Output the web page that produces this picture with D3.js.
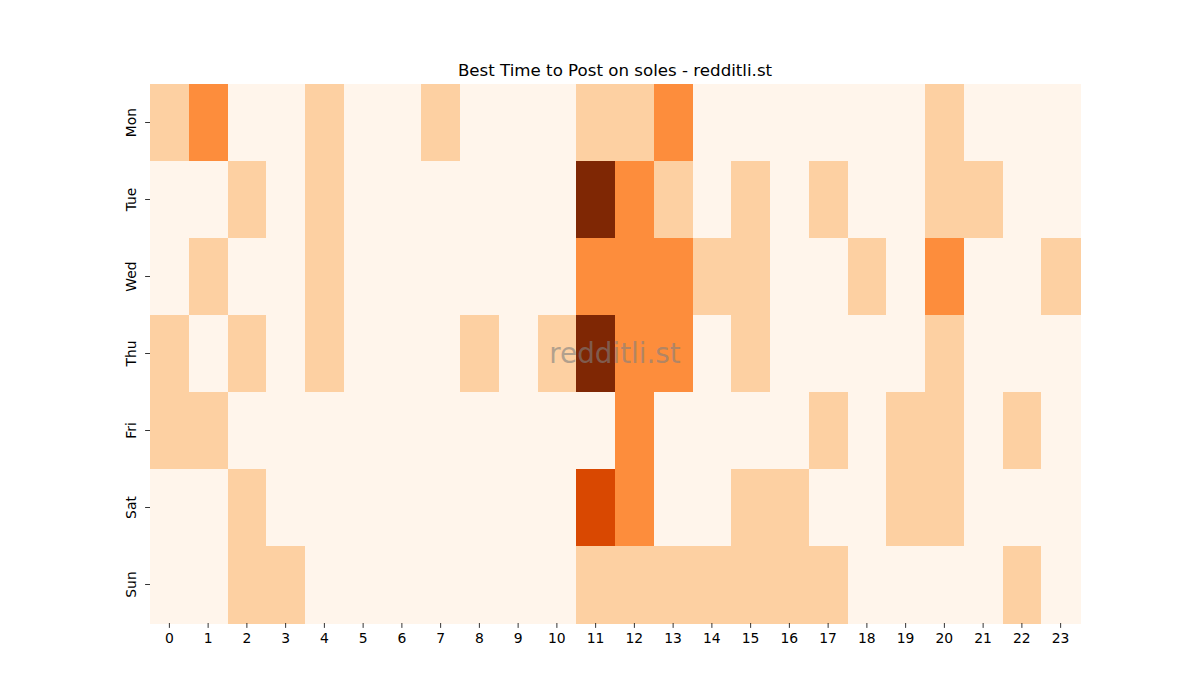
<!DOCTYPE html>
<html>
<head>
<meta charset="utf-8">
<script src="https://cdn.jsdelivr.net/npm/d3@7"></script>
<style>
  body { margin: 0; background: #fff; }
  svg { font-family: "DejaVu Sans", sans-serif; }
</style>
</head>
<body>
<svg id="chart" width="1200" height="700"></svg>
<script>
// Days (rows) and hours (columns)
const days = ["Mon", "Tue", "Wed", "Thu", "Fri", "Sat", "Sun"];
const hours = d3.range(24);

// Post counts per hour, one array per day
const mon = [1, 2, 0, 0, 1, 0, 0, 1, 0, 0, 0, 1, 1, 2, 0, 0, 0, 0, 0, 0, 1, 0, 0, 0];
const tue = [0, 0, 1, 0, 1, 0, 0, 0, 0, 0, 0, 4, 2, 1, 0, 1, 0, 1, 0, 0, 1, 1, 0, 0];
const wed = [0, 1, 0, 0, 1, 0, 0, 0, 0, 0, 0, 2, 2, 2, 1, 1, 0, 0, 1, 0, 2, 0, 0, 1];
const thu = [1, 0, 1, 0, 1, 0, 0, 0, 1, 0, 1, 4, 2, 2, 0, 1, 0, 0, 0, 0, 1, 0, 0, 0];
const fri = [1, 1, 0, 0, 0, 0, 0, 0, 0, 0, 0, 0, 2, 0, 0, 0, 0, 1, 0, 1, 1, 0, 1, 0];
const sat = [0, 0, 1, 0, 0, 0, 0, 0, 0, 0, 0, 3, 2, 0, 0, 1, 1, 0, 0, 1, 1, 0, 0, 0];
const sun = [0, 0, 1, 1, 0, 0, 0, 0, 0, 0, 0, 1, 1, 1, 1, 1, 1, 1, 0, 0, 0, 0, 1, 0];
const counts = [mon, tue, wed, thu, fri, sat, sun];

const title = "Best Time to Post on soles - redditli.st";
const watermark = "redditli.st";

const cells = [];
counts.forEach((row, i) => row.forEach((v, h) => cells.push({ day: days[i], hour: h, value: v })));

const margin = { left: 150, right: 120, top: 84, bottom: 77 };
const width = 1200, height = 700;

const svg = d3.select("#chart");

const x = d3.scaleBand()
    .domain(hours)
    .range([margin.left, width - margin.right]);

const y = d3.scaleBand()
    .domain(days)
    .range([margin.top, height - margin.bottom]);

// matplotlib "Oranges" anchors
const maxVal = d3.max(cells, d => d.value);
const color = d3.scaleLinear()
    .domain([0, 0.25, 0.5, 0.75, 1].map(t => t * maxVal))
    .range(["#fff5eb", "#fdd0a2", "#fd8d3c", "#d94801", "#7f2704"]);

svg.append("g")
  .selectAll()
  .data(cells)
  .join("rect")
    .attr("x", d => x(d.hour))
    .attr("y", d => y(d.day))
    .attr("width", x.bandwidth() + 0.5)
    .attr("height", y.bandwidth() + 0.5)
    .attr("fill", d => color(d.value))
    .attr("shape-rendering", "crispEdges");

const xAxis = svg.append("g")
    .attr("transform", `translate(0,${height - margin.bottom})`)
    .call(d3.axisBottom(x).tickSize(4.9).tickPadding(4.9));

const yAxis = svg.append("g")
    .attr("transform", `translate(${margin.left},0)`)
    .call(d3.axisLeft(y).tickSize(4.9).tickPadding(4.9));

[xAxis, yAxis].forEach(a => {
  a.select(".domain").remove();
  a.selectAll("text").attr("font-size", "13.9px").attr("fill", "#000").attr("font-family", "DejaVu Sans, sans-serif");
  a.selectAll("line").attr("stroke", "#000").attr("stroke-width", 0.8);
});

yAxis.selectAll("text")
    .attr("text-anchor", "middle")
    .attr("dy", null)
    .attr("x", null)
    .attr("transform", "translate(-14.5,0) rotate(-90)");

svg.append("text")
    .attr("x", (margin.left + width - margin.right) / 2)
    .attr("y", margin.top - 8.3)
    .attr("text-anchor", "middle")
    .attr("font-size", "16.67px")
    .text(title);

svg.append("text")
    .attr("x", (margin.left + width - margin.right) / 2)
    .attr("y", (margin.top + height - margin.bottom) / 2)
    .attr("dy", "0.35em")
    .attr("text-anchor", "middle")
    .attr("font-size", "27.8px")
    .attr("fill", "#808080")
    .attr("fill-opacity", 0.6)
    .text(watermark);
</script>
</body>
</html>
